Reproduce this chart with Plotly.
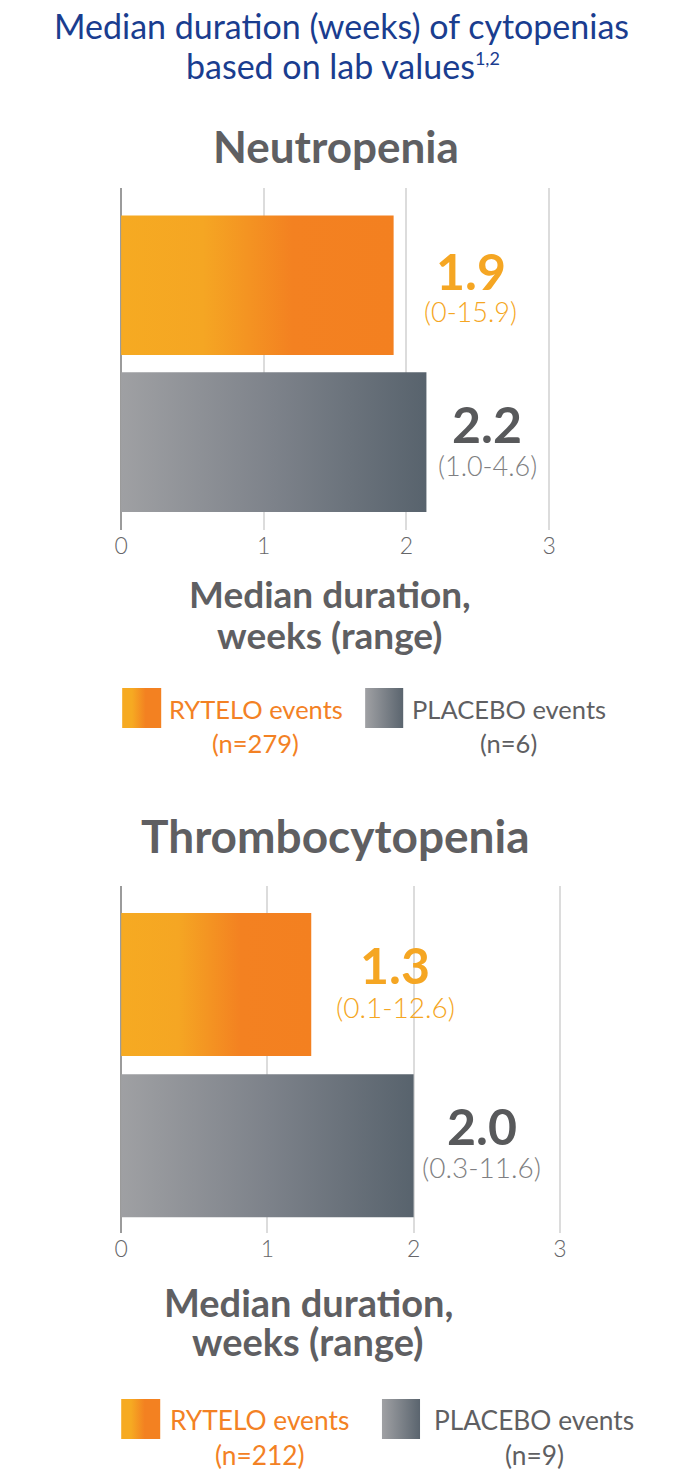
import base64
import plotly.graph_objects as go

# ---- data ----
arms = ["RYTELO", "PLACEBO"]
tick_vals = [0, 1, 2, 3]

neutro_median = ["1.9", "2.2"]
neutro_range = ["(0-15.9)", "(1.0-4.6)"]
neutro_bar = [1.91, 2.14]       # drawn bar lengths (weeks)
neutro_n = [279, 6]

thrombo_median = ["1.3", "2.0"]
thrombo_range = ["(0.1-12.6)", "(0.3-11.6)"]
thrombo_bar = [1.30, 2.00]
thrombo_n = [212, 9]

# ---- style ----
W, H = 676, 1470
FONT = "Lato"
BLUE = "#1a3d8f"
DARK = "#5f5f62"
ORANGE_TXT = "#f5a623"
ORANGE_LEG = "#f38124"
GRAY_NUM = "#58595b"
GRAY_RNG = "#7f7f82"

orange_scale = [[0, "#f6aa22"], [0.3, "#f5a623"], [0.63, "#f38121"], [1, "#f38020"]]
gray_scale = [[0, "#9fa0a3"], [0.5, "#7d828a"], [1, "#58636d"]]


def py(y):  # pixel row -> paper y
    return 1 - y / H


def px(x):
    return x / W


fig = go.Figure()

panels = [
    dict(title="Neutropenia", bar=neutro_bar, med=neutro_median, rng=neutro_range, n=neutro_n,
         xa="x", ya="y", x_end=554, yr=[-0.56, 1.62], half=0.445,
         title_y=146, title_size=44, axt=(594, 634, 328), axt_size=37,
         leg_y=(709, 743), leg_sw=(117, 364), leg_txt=(253, 510), leg_size=25.5,
         dx=[77, 61], dy_num=[14, 18], dy_rng=[-26, -23], rng_size=27),
    dict(title="Thrombocytopenia", bar=thrombo_bar, med=thrombo_median, rng=thrombo_range, n=thrombo_n,
         xa="x2", ya="y2", x_end=565, yr=[-0.54, 1.61], half=0.443,
         title_y=835, title_size=46, axt=(1302, 1341, 306), axt_size=38,
         leg_y=(1420, 1455), leg_sw=(116, 381), leg_txt=(257, 536), leg_size=26.3,
         dx=[84, 68], dy_num=[19, 20], dy_rng=[-23, -21], rng_size=28),
]

annotations = []
images = []


def swatch(stops):
    svg = ('<svg xmlns="http://www.w3.org/2000/svg" width="40" height="40">'
           '<defs><linearGradient id="g" x1="0" x2="1" y1="0" y2="0">' + stops +
           '</linearGradient></defs><rect width="40" height="40" fill="url(#g)"/></svg>')
    return "data:image/svg+xml;base64," + base64.b64encode(svg.encode()).decode()


sw_orange = swatch('<stop offset="0.25" stop-color="#f6aa22"/><stop offset="0.6" stop-color="#f38121"/>')
sw_gray = swatch('<stop offset="0" stop-color="#a0a1a4"/><stop offset="1" stop-color="#5a646e"/>')

for i, p in enumerate(panels):
    # bars: RYTELO on top (y=1), PLACEBO below (y=0)
    for j, (arm, scale) in enumerate(zip(arms, [orange_scale, gray_scale])):
        pos = 1 - j
        v = p["bar"][j]
        h = p["half"]
        fig.add_trace(go.Scatter(
            x=[0, v, v, 0, 0], y=[pos - h, pos - h, pos + h, pos + h, pos - h],
            xaxis=p["xa"], yaxis=p["ya"], mode="lines", line=dict(width=0),
            fill="toself", fillgradient=dict(type="horizontal", colorscale=scale),
            name=arm, hoverinfo="skip", showlegend=False))
        num_col = ORANGE_TXT if j == 0 else GRAY_NUM
        rng_col = ORANGE_TXT if j == 0 else GRAY_RNG
        annotations.append(dict(x=v, y=pos, xref=p["xa"], yref=p["ya"], text="<b>" + p["med"][j] + "</b>",
                                showarrow=False, xanchor="center", yanchor="middle",
                                xshift=p["dx"][j], yshift=p["dy_num"][j],
                                font=dict(size=50, color=num_col, family=FONT)))
        annotations.append(dict(x=v, y=pos, xref=p["xa"], yref=p["ya"], text=p["rng"][j],
                                showarrow=False, xanchor="center", yanchor="middle",
                                xshift=p["dx"][j], yshift=p["dy_rng"][j],
                                font=dict(size=p["rng_size"], color=rng_col, family=FONT, weight=300)))

    # panel title
    annotations.append(dict(x=px(334), y=py(p["title_y"]), xref="paper", yref="paper",
                            text="<b>" + p["title"] + "</b>", showarrow=False,
                            xanchor="center", yanchor="middle",
                            font=dict(size=p["title_size"], color=DARK, family=FONT)))
    # axis title
    for k, line in enumerate(["Median duration,", "weeks (range)"]):
        annotations.append(dict(x=px(p["axt"][2]), y=py(p["axt"][k]), xref="paper", yref="paper",
                                text="<b>" + line + "</b>", showarrow=False,
                                xanchor="center", yanchor="middle",
                                font=dict(size=p["axt_size"], color=DARK, family=FONT)))
    # legend
    sw_o, sw_g = p["leg_sw"]
    top = py(p["leg_y"][0] - 21)
    images.append(dict(source=sw_orange, xref="paper", yref="paper", x=px(sw_o), y=top,
                       sizex=px(40), sizey=40 / H, xanchor="left", yanchor="top", sizing="stretch", layer="above"))
    images.append(dict(source=sw_gray, xref="paper", yref="paper", x=px(sw_g), y=top,
                       sizex=px(39), sizey=40 / H, xanchor="left", yanchor="top", sizing="stretch", layer="above"))
    leg_items = [("RYTELO events", p["n"][0], ORANGE_LEG, p["leg_txt"][0]),
                 ("PLACEBO events", p["n"][1], DARK, p["leg_txt"][1])]
    for label, n, col, xc in leg_items:
        annotations.append(dict(x=px(xc), y=py(p["leg_y"][0]), xref="paper", yref="paper",
                                text=label, showarrow=False, xanchor="center", yanchor="middle",
                                font=dict(size=p["leg_size"], color=col, family=FONT)))
        annotations.append(dict(x=px(xc), y=py(p["leg_y"][1]), xref="paper", yref="paper",
                                text="(n=%d)" % n, showarrow=False, xanchor="center", yanchor="middle",
                                font=dict(size=p["leg_size"], color=col, family=FONT)))

# main title
annotations.append(dict(x=px(340), y=py(26), xref="paper", yref="paper",
                        text="Median duration (weeks) of cytopenias", showarrow=False,
                        xanchor="center", yanchor="middle", font=dict(size=34, color=BLUE, family=FONT)))
annotations.append(dict(x=px(342), y=py(66), xref="paper", yref="paper",
                        text='based on lab values<sup><span style="font-size:18px">1,2</span></sup>',
                        showarrow=False, xanchor="center", yanchor="middle",
                        font=dict(size=34, color=BLUE, family=FONT)))

axis_common = dict(range=[0, 3.02], tickvals=tick_vals, showgrid=True, gridcolor="#dcdcdc", gridwidth=1.5,
                   zeroline=True, zerolinecolor="#9b9b9b", zerolinewidth=2, ticks="", showline=False,
                   tickfont=dict(size=23, color="#666669", family=FONT, weight=300), fixedrange=True)

fig.update_layout(
    width=W, height=H, margin=dict(l=0, r=0, t=0, b=0),
    paper_bgcolor="white", plot_bgcolor="white", showlegend=False,
    font=dict(family=FONT),
    xaxis=dict(domain=[px(116), px(panels[0]["x_end"])], anchor="y", **axis_common),
    yaxis=dict(domain=[py(530), py(188)], range=panels[0]["yr"], visible=False, fixedrange=True),
    xaxis2=dict(domain=[px(116), px(panels[1]["x_end"])], anchor="y2", **axis_common),
    yaxis2=dict(domain=[py(1233), py(886)], range=panels[1]["yr"], visible=False, fixedrange=True),
    annotations=annotations, images=images,
)

fig.write_html("out.html", config={"displayModeBar": False},
               post_script="document.body.style.margin='0';")
